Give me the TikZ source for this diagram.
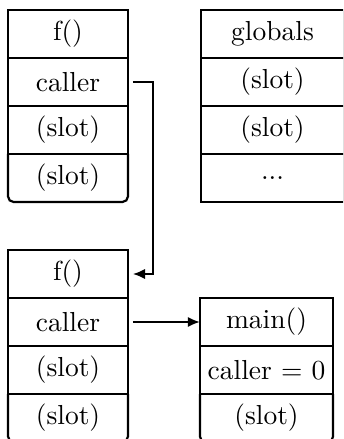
\documentclass[tikz,border=0pt]{standalone}
\usetikzlibrary{arrows.meta}
\begin{document}
\begin{tikzpicture}[x=0.3636pt,y=-0.3636pt,
  cell/.style={minimum width=43.6pt,minimum height=17.45pt,inner sep=0pt,outer sep=0pt,line width=0.8pt},
  bx/.style={cell,draw},
  lastcell/.style={cell},
  wide/.style={minimum width=48.4pt},
  gwide/.style={minimum width=52pt},
  link/.style={line width=0.8pt,-{Latex[length=4.4pt,width=3.8pt]}},
  bottomline/.style={line width=0.8pt,rounded corners=2pt}]
\useasboundingbox (0,0) rectangle (343,439);
\clip (0,0) rectangle (343,439);
% top-left stack
\node[bx] (a1) at (68,34) {f()};
\node[bx] (a2) at (68,82) {caller};
\node[bx] (a3) at (68,130) {(slot)};
\node[lastcell] (a4) at (68,178) {(slot)};
\draw[bottomline] (a4.north west) -- (a4.south west) -- (a4.south east) -- (a4.north east);
% globals
\node[bx,gwide] (g1) at (272.5,34) {globals};
\node[bx,gwide] (g2) at (272.5,82) {(slot)};
\node[bx,gwide] (g3) at (272.5,130) {(slot)};
\node[bx,gwide] (g4) at (272.5,178) {...};
% bottom-left stack
\node[bx] (b1) at (68,274) {f()};
\node[bx] (b2) at (68,322) {caller};
\node[bx] (b3) at (68,370) {(slot)};
\node[lastcell] (b4) at (68,418) {(slot)};
\draw[bottomline] (b4.north west) -- (b4.south west) -- (b4.south east) -- (b4.north east);
% main
\node[bx,wide] (m1) at (266.5,322) {main()};
\node[bx,wide] (m2) at (266.5,370) {caller $=$ 0};
\node[lastcell,wide] (m3) at (266.5,418) {(slot)};
\draw[bottomline] (m3.north west) -- (m3.south west) -- (m3.south east) -- (m3.north east);
% connectors
\draw[link,shorten <=1.8pt,shorten >=1.8pt] (a2.east) -- ++(25,0) |- (b1.east);
\draw[link,shorten <=1.8pt] (b2.east) -- (m1.west);
\end{tikzpicture}
\end{document}
